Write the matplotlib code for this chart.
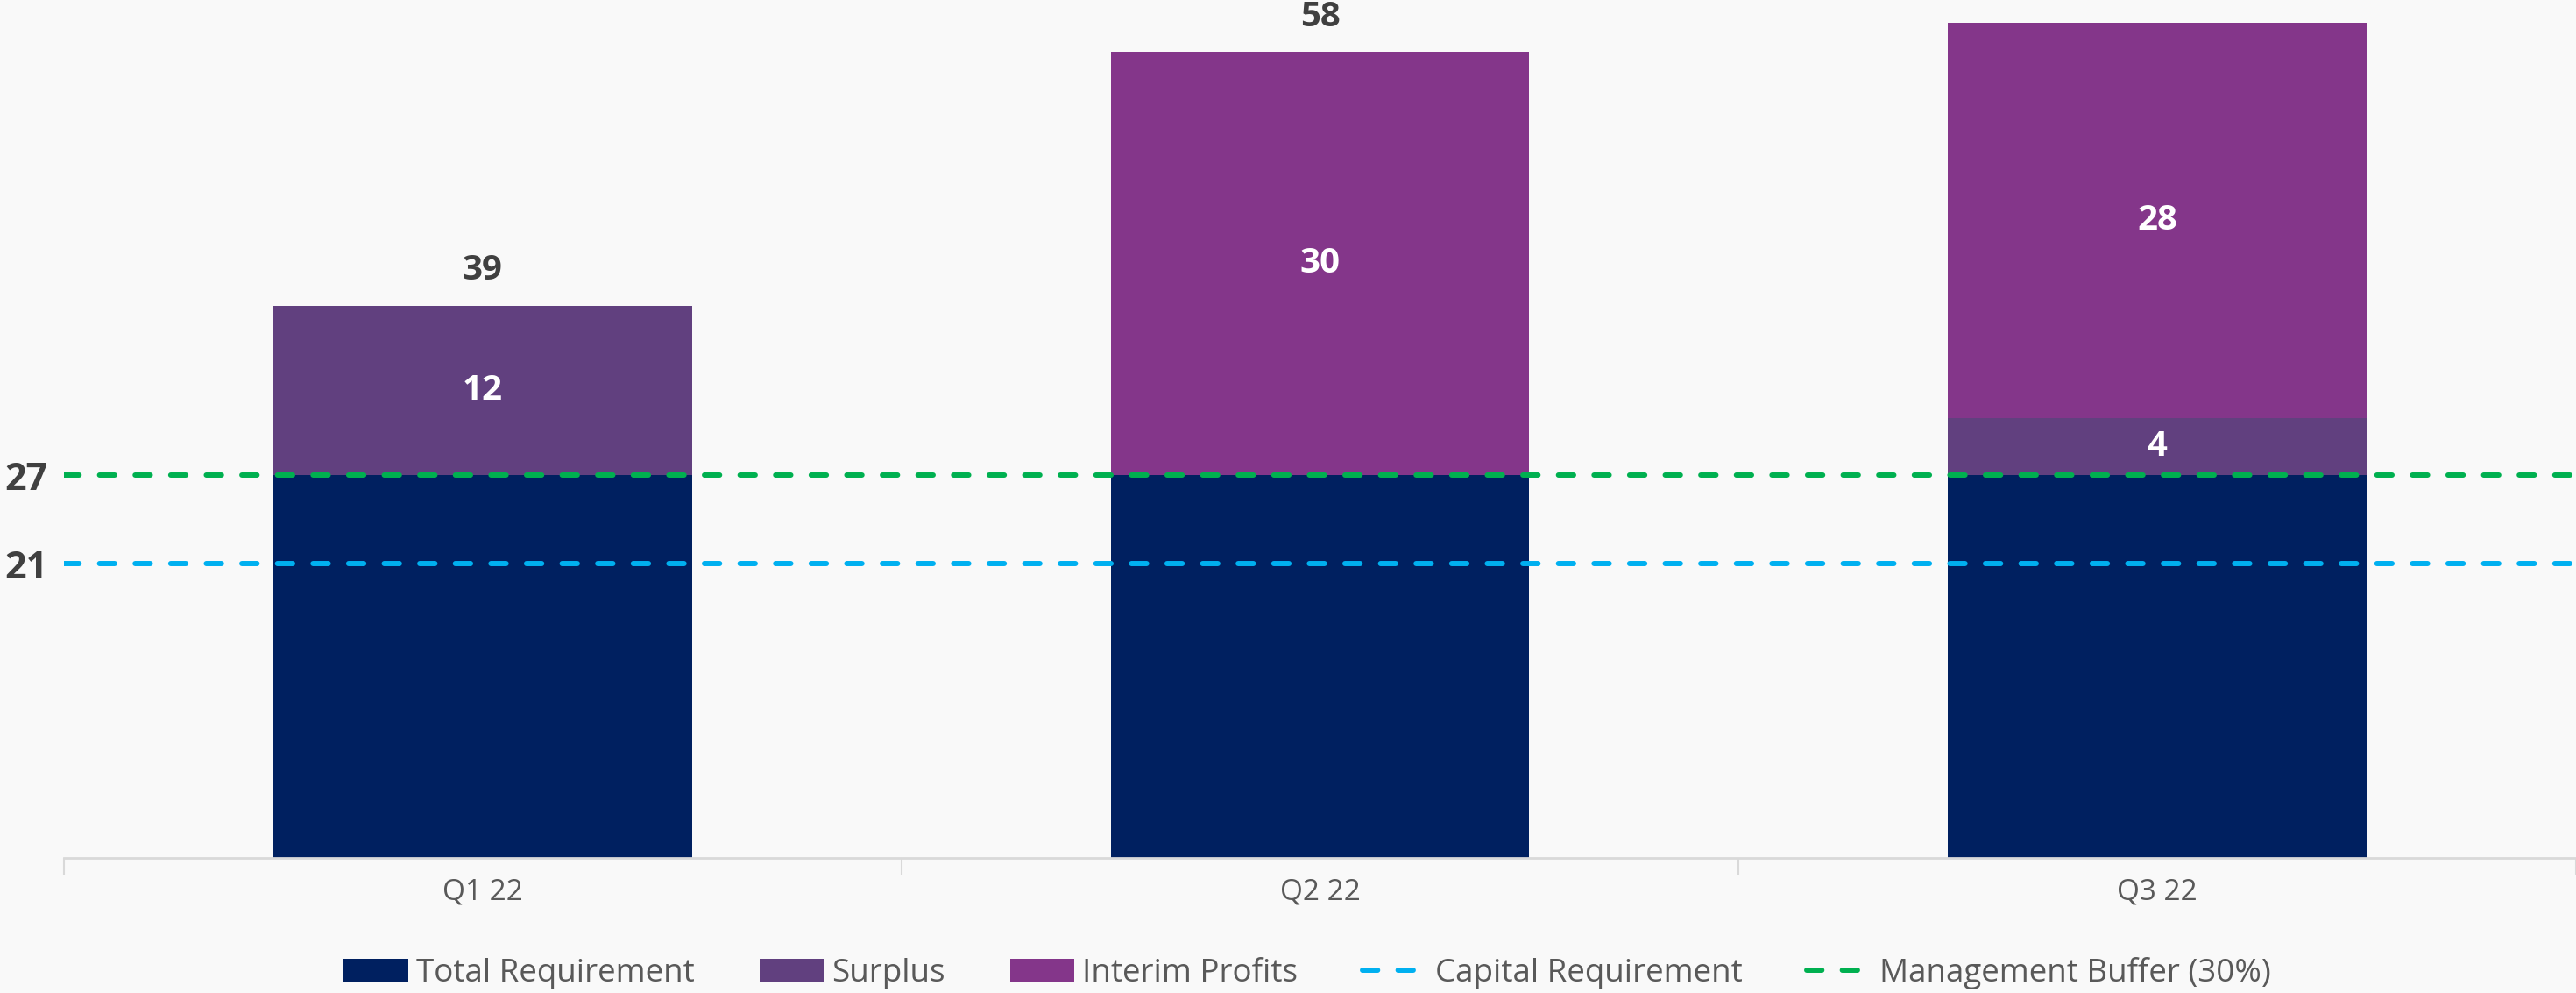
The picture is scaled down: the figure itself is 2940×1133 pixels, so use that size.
import matplotlib
matplotlib.use("Agg")
import matplotlib.pyplot as plt
import numpy as np

quarters = ["Q1 22", "Q2 22", "Q3 22"]
total_req = [27.3, 27.3, 27.3]
surplus = [12.1, 0.0, 4.1]
interim = [0.0, 30.2, 28.2]
capital_req = 21.0
mgmt_buffer = 27.3

navy = "#002060"
purple = "#61407F"
magenta = "#84368A"
blue = "#00B0F0"
green = "#00B050"
bg = "#F9F9F9"

plt.rcParams["font.family"] = ["Open Sans", "DejaVu Sans"]

fig = plt.figure(figsize=(29.4, 11.33), dpi=100, facecolor=bg)
ax = fig.add_axes([0.0248, 0.136, 0.9752, 0.864])
ax.set_facecolor(bg)

ind = np.arange(len(quarters))
w = 0.5
total_req = np.array(total_req)
surplus = np.array(surplus)
interim = np.array(interim)

b1 = ax.bar(ind, total_req, w, color=navy, label="Total Requirement", zorder=2)
b2 = ax.bar(ind, surplus, w, bottom=total_req, color=purple, label="Surplus",
            zorder=2)
b3 = ax.bar(ind, interim, w, bottom=total_req + surplus, color=magenta,
            label="Interim Profits", zorder=2)

l1 = ax.axhline(capital_req, color=blue, lw=4.3, dashes=(2.9, 3.9),
                dash_capstyle="round", label="Capital Requirement", zorder=3)
l2 = ax.axhline(mgmt_buffer, color=green, lw=4.3, dashes=(2.9, 3.9),
                dash_capstyle="round", label="Management Buffer (30%)", zorder=3)

ax.set_xlim(-0.5, 2.5)
ax.set_ylim(0, 61.2)

# segment labels
for i in ind:
    if surplus[i] > 0:
        ax.text(i, total_req[i] + surplus[i] / 2, "%d" % round(surplus[i]),
                ha="center", va="center", color="white", fontsize=29,
                fontweight="bold", zorder=4)
    if interim[i] > 0:
        ax.text(i, total_req[i] + surplus[i] + interim[i] / 2,
                "%d" % round(interim[i]), ha="center", va="center",
                color="white", fontsize=29, fontweight="bold", zorder=4)

# totals above bars (only where they fit)
totals = total_req + surplus + interim
for i in ind:
    y = totals[i] + 2.5
    if y < ax.get_ylim()[1]:
        ax.text(i, y, "%d" % round(totals[i]), ha="center", va="center",
                color="#404040", fontsize=29, fontweight="bold")

ax.set_yticks([capital_req, mgmt_buffer])
ax.set_yticklabels(["%d" % capital_req, "%d" % mgmt_buffer],
                   fontsize=31, fontweight="bold", color="#404040")
ax.tick_params(axis="y", length=0, pad=13)

ax.set_xticks(ind)
ax.set_xticklabels(quarters, fontsize=24, color="#595959")
ax.tick_params(axis="x", length=0, pad=16)
ax.set_xticks([-0.5, 0.5, 1.5, 2.5], minor=True)
ax.tick_params(axis="x", which="minor", length=14, width=1.5, color="#D9D9D9")

for s in ["top", "right", "left"]:
    ax.spines[s].set_visible(False)
ax.spines["bottom"].set_color("#D9D9D9")
ax.spines["bottom"].set_linewidth(2)

handles = [b1, b2, b3, l1, l2]
leg = ax.legend(handles, [h.get_label() for h in handles], loc="center",
                bbox_to_anchor=(0.495, -0.134), ncol=5, frameon=False,
                fontsize=26.5, handlelength=2.0, handleheight=0.7,
                handletextpad=0.25, columnspacing=2.0)
for t in leg.get_texts():
    t.set_color("#595959")

plt.savefig("out.png", facecolor=bg)
